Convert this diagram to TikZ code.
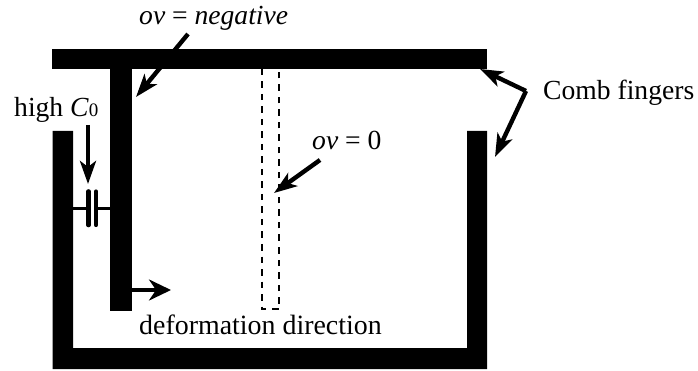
\documentclass[tikz,border=0pt]{standalone}
\usepackage{fontspec}
\setmainfont{Liberation Serif}
\usetikzlibrary{arrows.meta}
\tikzset{
  solidpart/.style={fill=black,draw=none},
  pointer/.style={line width=4.4pt,draw=black,-{Stealth[length=23pt,width=16pt,inset=6pt]}},
  pointerthin/.style={line width=3.4pt,draw=black,-{Stealth[length=22pt,width=21pt,inset=7pt]}},
  label/.style={inner sep=0pt,anchor=base west,font=\fontsize{27.6}{30}\selectfont},
  ghost/.style={draw=black,line width=2pt,dash pattern=on 6.5pt off 6pt},
  plate/.style={draw=black,line cap=round},
  lead/.style={draw=black,line width=2.4pt}
}
\begin{document}
\begin{tikzpicture}[x=1pt,y=-1pt]
\useasboundingbox (0,0) rectangle (698,371);
% moving comb
\path[solidpart] (52,49) rectangle (487,69);
\path[solidpart] (110,69) rectangle (132,311);
% fixed comb
\path[solidpart] (52.5,131) -- (73,131) -- (73,348) -- (467,348) -- (467,131) -- (487,131) -- (487,369) -- (52.5,369) -- cycle;
% undeformed finger
\draw[ghost] (262,69) -- (262,309) -- (279,309) -- (279,69);
% capacitor
\coordinate (leadL) at (73,208.5);
\coordinate (plateA) at (88,208.5);
\coordinate (plateB) at (96,208.5);
\coordinate (leadR) at (110,208.5);
\draw[lead] (leadL) -- (plateA);
\draw[lead] (plateB) -- (leadR);
\draw[plate,line width=4.6pt] (88.5,191.5) -- (88.5,225);
\draw[plate,line width=4.2pt] (96,191.5) -- (96,225);
% labels
\node[label] (ovneg) at (139,25) {\textit{ov} = \textit{negative}};
\node[label] (highc) at (14,117) {high \textit{C}{\fontsize{19}{20}\selectfont 0}};
\node[label] (ovzero) at (312,150) {\textit{ov} = 0};
\node[label] (comb) at (543,100) {Comb fingers};
\node[label,font=\fontsize{27.9}{30}\selectfont] (defdir) at (139,334) {deformation direction};
% pointers
\coordinate (negS) at (188,34);
\coordinate (negE) at (136,97);
\draw[pointer] (negS) -- (negE);
\coordinate (highS) at (88,125);
\coordinate (highE) at (88,184);
\draw[pointer] (highS) -- (highE);
\coordinate (zeroS) at (320,160);
\coordinate (zeroE) at (274,193);
\draw[pointer] (zeroS) -- (zeroE);
\coordinate (combJ) at (526,91);
\coordinate (combA) at (480,69);
\coordinate (combB) at (495,157);
\draw[pointer] (combJ) -- (combA);
\draw[pointer] (combJ) -- (combB);
\coordinate (defS) at (132,290);
\coordinate (defE) at (171,290);
\draw[pointerthin] (defS) -- (defE);
\end{tikzpicture}
\end{document}
